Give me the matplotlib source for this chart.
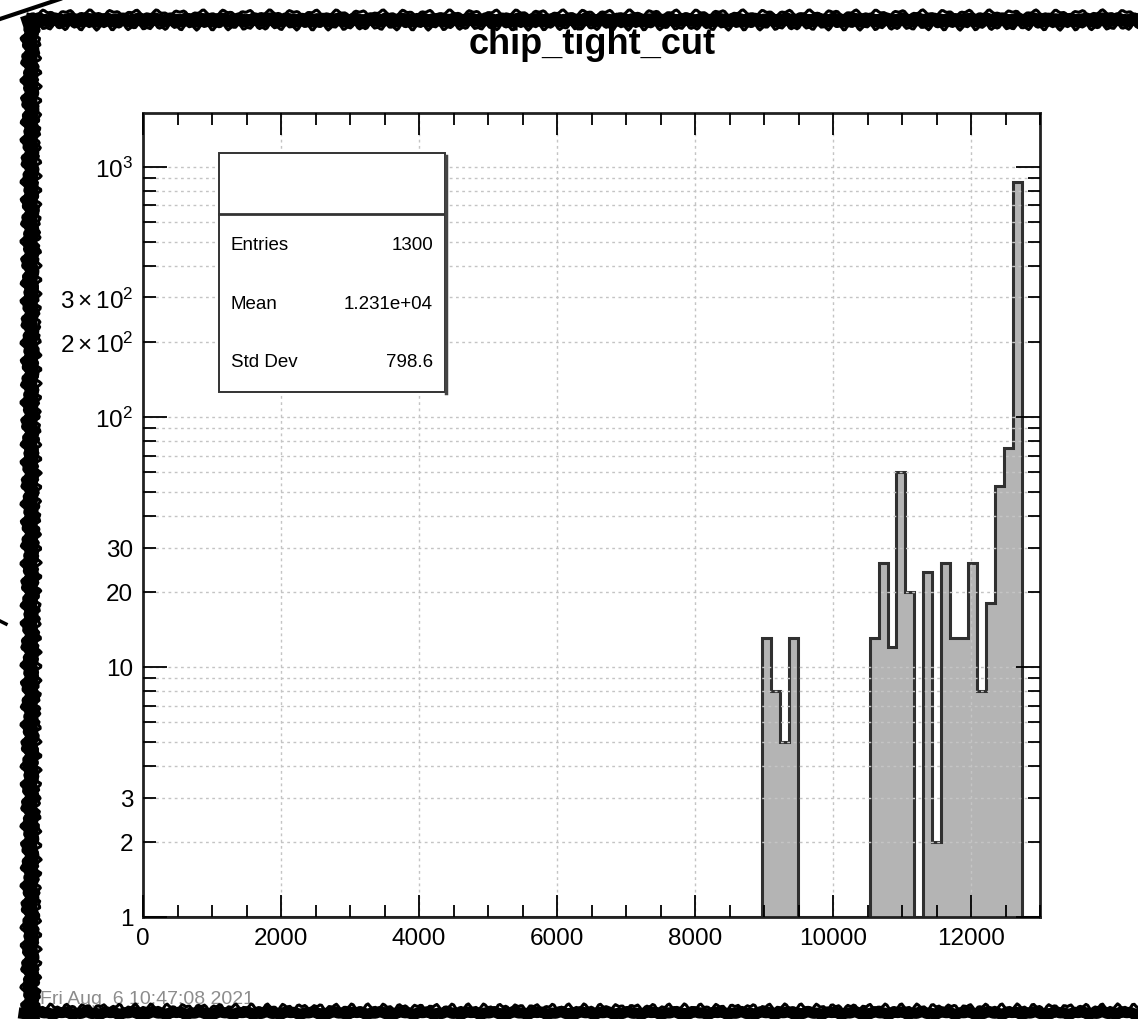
import matplotlib
matplotlib.use("Agg")
import matplotlib.pyplot as plt
import numpy as np
from matplotlib.lines import Line2D
from matplotlib.patches import Rectangle
from matplotlib.ticker import FixedLocator, FixedFormatter, MultipleLocator

# histogram definition (ROOT TH1, 100 bins from 0 to 13000)
title = "chip_tight_cut"
n_bins = 100
x_lo, x_hi = 0, 13000
first_bin = 69
bin_counts = [13, 8, 5, 13,
              0, 0, 0, 0, 0, 0, 0, 0,
              13, 26, 12, 60, 20,
              0,
              24, 2, 26, 13, 13, 26, 8, 18, 53, 75, 872]

stats_labels = ["Entries", "Mean", "Std Dev"]
stats_values = ["1300", "1.231e+04", "798.6"]
timestamp = "Fri Aug  6 10:47:08 2021"

x_major = [0, 2000, 4000, 6000, 8000, 10000, 12000]
y_major = [1, 10, 100, 1000]
y_major_labels = ["1", "10", r"$10^{2}$", r"$10^{3}$"]
y_minor = [2, 3, 4, 5, 6, 7, 8, 9, 20, 30, 40, 50, 60, 70, 80, 90,
           200, 300, 400, 500, 600, 700, 800, 900]
y_minor_labels = ["2", "3", "", "", "", "", "", "",
                  "20", "30", "", "", "", "", "", "",
                  r"$2\times10^{2}$", r"$3\times10^{2}$", "", "", "", "", "", ""]

plt.rcParams["font.family"] = ["Liberation Sans", "DejaVu Sans"]
plt.rcParams["mathtext.fontset"] = "custom"
plt.rcParams["mathtext.rm"] = "Liberation Sans"
plt.rcParams["mathtext.it"] = "Liberation Sans:italic"

W, H = 1138, 1020
fig = plt.figure(figsize=(W / 100, H / 100), dpi=100)

# frame in pixels: x 143..1040, y 114..918
ax = fig.add_axes([143 / W, 1 - 918 / H, (1040 - 143) / W, (918 - 114) / H])

edges = np.linspace(x_lo, x_hi, n_bins + 1)
counts = np.zeros(n_bins)
counts[first_bin:first_bin + len(bin_counts)] = bin_counts
draw_vals = np.where(counts > 0, counts, 1)

ax.stairs(draw_vals, edges, baseline=1, fill=True, color="#b4b4b4", zorder=1)
ax.stairs(draw_vals, edges, baseline=1, color="#303030", lw=2.2, zorder=1.5)

ax.set_yscale("log")
ax.set_xlim(x_lo, x_hi)
ax.set_ylim(1, 1640)

ax.xaxis.set_major_locator(FixedLocator(x_major))
ax.xaxis.set_minor_locator(MultipleLocator(500))
ax.yaxis.set_major_locator(FixedLocator(y_major))
ax.yaxis.set_major_formatter(FixedFormatter(y_major_labels))
ax.yaxis.set_minor_locator(FixedLocator(y_minor))
ax.yaxis.set_minor_formatter(FixedFormatter(y_minor_labels))

ax.tick_params(axis="both", which="both", direction="in", top=True, right=True,
               colors="black", labelsize=17.5, width=1.3)
ax.tick_params(axis="x", which="major", length=16, pad=7)
ax.tick_params(axis="x", which="minor", length=8.5)
ax.tick_params(axis="y", which="major", length=17, pad=7)
ax.tick_params(axis="y", which="minor", length=9, pad=7)

# ROOT-style dotted grid drawn over the histogram, under the ticks
ax.set_axisbelow(False)
grid_style = dict(ls=(0, (2, 2.5)), color="#c4c4c4", lw=1, zorder=1.8)
for xv in x_major[1:]:
    ax.axvline(xv, **grid_style)
for yv in y_major[1:] + y_minor:
    ax.axhline(yv, **grid_style)

for sp in ax.spines.values():
    sp.set_linewidth(2)
    sp.set_color("#222222")

# title
fig.text(592 / W, 1 - 45 / H, title, ha="center", va="center",
         fontsize=26, fontweight="bold")

# statistics box (pixel coordinates)
bx0, bx1, by0, by1, bdiv = 219, 445, 154, 393, 215
over = fig.add_axes([0, 0, 1, 1], facecolor="none")
over.set_xlim(0, W)
over.set_ylim(H, 0)
over.axis("off")
over.add_patch(Rectangle((bx0, by0), bx1 - bx0, by1 - by0, facecolor="white",
                         edgecolor="#333333", lw=1.4, zorder=5))
over.add_line(Line2D([bx0, bx1], [bdiv, bdiv], color="#333333", lw=2, zorder=6))
over.add_line(Line2D([bx1 + 1, bx1 + 1], [by0 + 3, by1 + 1], color="#444444", lw=2.5, zorder=6))
for i, (lab, val) in enumerate(zip(stats_labels, stats_values)):
    yy = 246 + i * 58.5
    over.text(231, yy, lab, ha="left", va="center", fontsize=13.5, zorder=7)
    over.text(433, yy, val, ha="right", va="center", fontsize=13.5, zorder=7)

# timestamp
over.text(40, 1000, timestamp, ha="left", va="center", fontsize=14,
          color="#8c8c8c", zorder=3)

# sketchy hand-drawn border: a solid thick band with ragged edges
t = np.linspace(0, 1, 600)
wig_a = 2.0 * np.sin(t * 310) + 1.2 * np.sin(t * 737 + 1.3)
wig_b = 1.8 * np.sin(t * 420 + 0.7) + 1.4 * np.sin(t * 905 + 2.1)
over.plot(31 + 0.5 * wig_a, 26 + t * (H - 26), color="black", lw=10, zorder=8)
over.plot(24 + wig_a, 26 + t * (H - 26), color="black", lw=2.2, zorder=8)
over.plot(38 + wig_b, 26 + t * (H - 26), color="black", lw=2.2, zorder=8)

over.plot(28 + t * (W - 28), 21 + 0.5 * wig_b, color="black", lw=9, zorder=8)
over.plot(28 + t * (W - 28), 14 + wig_a, color="black", lw=2.2, zorder=8)
over.plot(28 + t * (W - 28), 28 + wig_b, color="black", lw=2.2, zorder=8)

over.plot(24 + t * (W - 24), 1014 + 0.5 * wig_a, color="black", lw=8, zorder=8)
over.plot(24 + t * (W - 24), 1008 + wig_b, color="black", lw=2.2, zorder=8)

over.plot([0, 60], [20, 0], color="black", lw=3, zorder=8)
over.plot([0, 6], [622, 625], color="black", lw=2.5, zorder=8)

fig.savefig("out.png", dpi=100, facecolor="white")
